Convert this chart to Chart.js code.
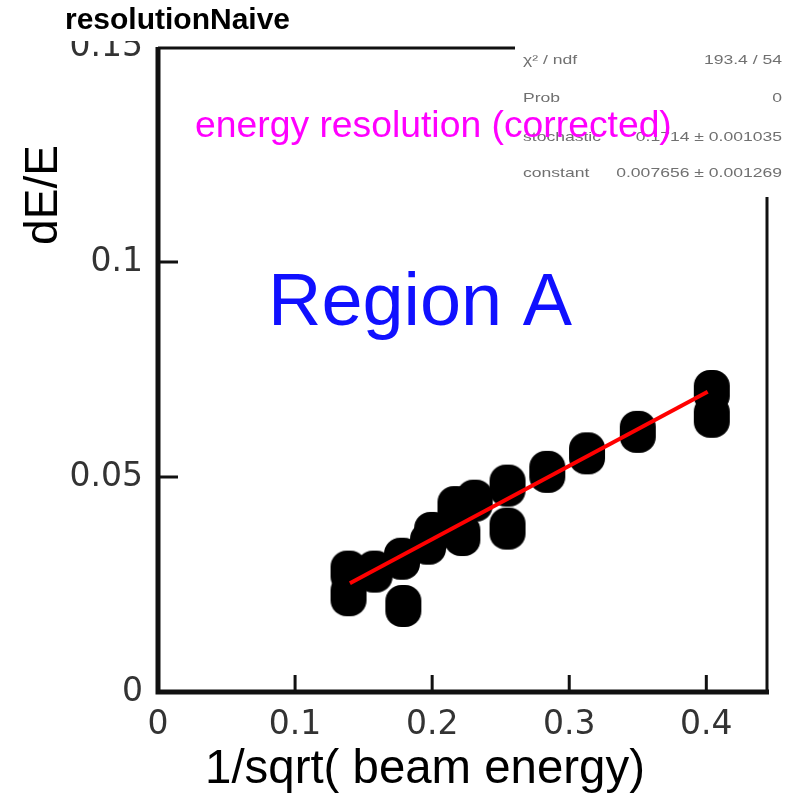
<!DOCTYPE html>
<html>
<head>
<meta charset="utf-8">
<script src="https://cdn.jsdelivr.net/npm/chart.js@4.4.1/dist/chart.umd.min.js"></script>
<style>
  body { margin: 0; background: #fff; }
  #wrap { width: 797px; height: 793px; }
</style>
</head>
<body>
<div id="wrap"><canvas id="resolution-chart" width="797" height="793"></canvas></div>
<script>
const beamX = [0.139, 0.139, 0.158, 0.179, 0.178, 0.197, 0.200, 0.217, 0.231, 0.222, 0.255, 0.255, 0.284, 0.313, 0.350, 0.404, 0.404];
const resolutionY = [0.028, 0.0225, 0.028, 0.020, 0.031, 0.0345, 0.037, 0.043, 0.0445, 0.0365, 0.048, 0.038, 0.0512, 0.0555, 0.0605, 0.070, 0.064];

// fit line end points
const fitX = [0.140, 0.401];
const fitY = [0.0253, 0.0698];

const xTicks = [0, 0.1, 0.2, 0.3, 0.4];
const yTicks = [0, 0.05, 0.1, 0.15];

const statNames = ['\u03c7\u00b2 / ndf', 'Prob', 'stochastic', 'constant'];
const statValues = ['193.4 / 54', '0', '0.1714 \u00b1 0.001035', '0.007656 \u00b1 0.001269'];

document.addEventListener('DOMContentLoaded', function() {
    const canvas = document.getElementById('resolution-chart');
    const ctx = canvas.getContext('2d');

    // big rounded black marker
    const marker = document.createElement('canvas');
    marker.width = 38;
    marker.height = 44;
    const m = marker.getContext('2d');
    m.fillStyle = '#000';
    m.beginPath();
    m.roundRect(1, 1, 36, 42, 16);
    m.fill();

    const points = beamX.map((x, i) => ({ x: x, y: resolutionY[i] }));
    const fitLine = fitX.map((x, i) => ({ x: x, y: fitY[i] }));

    // fit a text to a given width by picking font size
    function fitFont(c, text, width, weight, family) {
        let size = 10;
        c.font = weight + ' ' + size + 'px ' + family;
        const w = c.measureText(text).width;
        return weight + ' ' + (size * width / w).toFixed(1) + 'px ' + family;
    }

    // draw text squeezed/stretched horizontally
    function stretchText(c, text, x, y, sx, align) {
        c.save();
        c.translate(x, y);
        c.scale(sx, 1);
        c.textAlign = align;
        c.fillText(text, 0, 0);
        c.restore();
    }

    const decorations = {
        id: 'decorations',
        afterDraw(chart) {
            const c = chart.ctx;
            const a = chart.chartArea;
            const xs = chart.scales.x;
            const ys = chart.scales.y;
            c.save();

            // frame
            c.strokeStyle = '#111';
            c.lineWidth = 3;
            c.beginPath();
            c.moveTo(a.left, a.top + 1);
            c.lineTo(515, a.top + 1);
            c.moveTo(a.right - 1, 197);
            c.lineTo(a.right - 1, a.bottom);
            c.stroke();
            c.lineWidth = 5;
            c.beginPath();
            c.moveTo(a.left, a.top);
            c.lineTo(a.left, a.bottom);
            c.lineTo(a.right + 1, a.bottom);
            c.stroke();

            // inward ticks
            c.lineWidth = 3;
            c.beginPath();
            yTicks.slice(1, 3).forEach(v => {
                const py = ys.getPixelForValue(v);
                c.moveTo(a.left, py);
                c.lineTo(a.left + 20, py);
            });
            xTicks.slice(1).forEach(v => {
                const px = xs.getPixelForValue(v);
                c.moveTo(px, a.bottom);
                c.lineTo(px, a.bottom - 17);
            });
            c.stroke();

            // top label is cut off by the title pad
            c.fillStyle = '#fff';
            c.fillRect(0, 0, a.left - 2, 41);

            // title
            c.fillStyle = '#000';
            c.textBaseline = 'alphabetic';
            c.textAlign = 'left';
            c.font = fitFont(c, 'resolutionNaive', 225, 'bold', '"Liberation Sans", Arial, sans-serif');
            c.fillText('resolutionNaive', 65, 29);

            // stats box
            c.fillStyle = '#fff';
            c.fillRect(516, 38, 281, 158);
            c.fillStyle = '#707070';
            c.font = '13px "Liberation Sans", Arial, sans-serif';
            const rowY = [64, 102, 141, 177];
            statNames.forEach((name, i) => {
                stretchText(c, name, 523, rowY[i], 1.35, 'left');
                stretchText(c, statValues[i], 782, rowY[i], 1.35, 'right');
            });

            // legend-like caption
            c.fillStyle = '#ff00ff';
            c.textAlign = 'left';
            c.font = fitFont(c, 'energy resolution (corrected)', 477, 'normal', '"Liberation Sans", Arial, sans-serif');
            c.fillText('energy resolution (corrected)', 195, 137);

            // region label
            c.fillStyle = '#1010ff';
            c.textAlign = 'center';
            c.font = fitFont(c, 'Region A', 304, 'normal', '"Liberation Sans", Arial, sans-serif');
            c.fillText('Region A', 420, 325);

            // axis titles
            c.fillStyle = '#000';
            c.font = fitFont(c, '1/sqrt( beam energy)', 440, 'normal', '"Liberation Sans", Arial, sans-serif');
            c.fillText('1/sqrt( beam energy)', 425, 783);

            c.translate(57, 195);
            c.rotate(-Math.PI / 2);
            c.font = fitFont(c, 'dE/E', 100, 'normal', '"Liberation Sans", Arial, sans-serif');
            c.fillText('dE/E', 0, 0);

            c.restore();
        }
    };

    const tickFont = { family: '"DejaVu Sans", sans-serif', size: 33 };

    new Chart(ctx, {
        type: 'scatter',
        data: {
            datasets: [
                {
                    label: 'fit',
                    data: fitLine,
                    showLine: true,
                    borderColor: '#ff0000',
                    borderWidth: 4,
                    pointRadius: 0,
                    order: 0
                },
                {
                    label: 'energy resolution (corrected)',
                    data: points,
                    pointStyle: marker,
                    pointRadius: 18,
                    order: 1
                }
            ]
        },
        options: {
            responsive: false,
            animation: false,
            layout: { padding: { top: 47, right: 29, left: 0, bottom: 0 } },
            plugins: {
                legend: { display: false },
                tooltip: { enabled: false }
            },
            scales: {
                x: {
                    type: 'linear',
                    min: 0,
                    max: 0.445,
                    grid: { display: false, drawTicks: false },
                    border: { display: false },
                    afterFit(scale) { scale.height = 101; },
                    afterBuildTicks(scale) { scale.ticks = xTicks.map(v => ({ value: v })); },
                    ticks: {
                        padding: 14,
                        color: '#333',
                        font: tickFont,
                        maxRotation: 0,
                        callback: v => String(v)
                    }
                },
                y: {
                    type: 'linear',
                    min: 0,
                    max: 0.15,
                    grid: { display: false, drawTicks: false },
                    border: { display: false },
                    afterFit(scale) { scale.width = 158; },
                    afterBuildTicks(scale) { scale.ticks = yTicks.map(v => ({ value: v })); },
                    ticks: {
                        padding: 15,
                        color: '#333',
                        font: tickFont,
                        callback: v => String(v)
                    }
                }
            }
        },
        plugins: [decorations]
    });
});
</script>
</body>
</html>
